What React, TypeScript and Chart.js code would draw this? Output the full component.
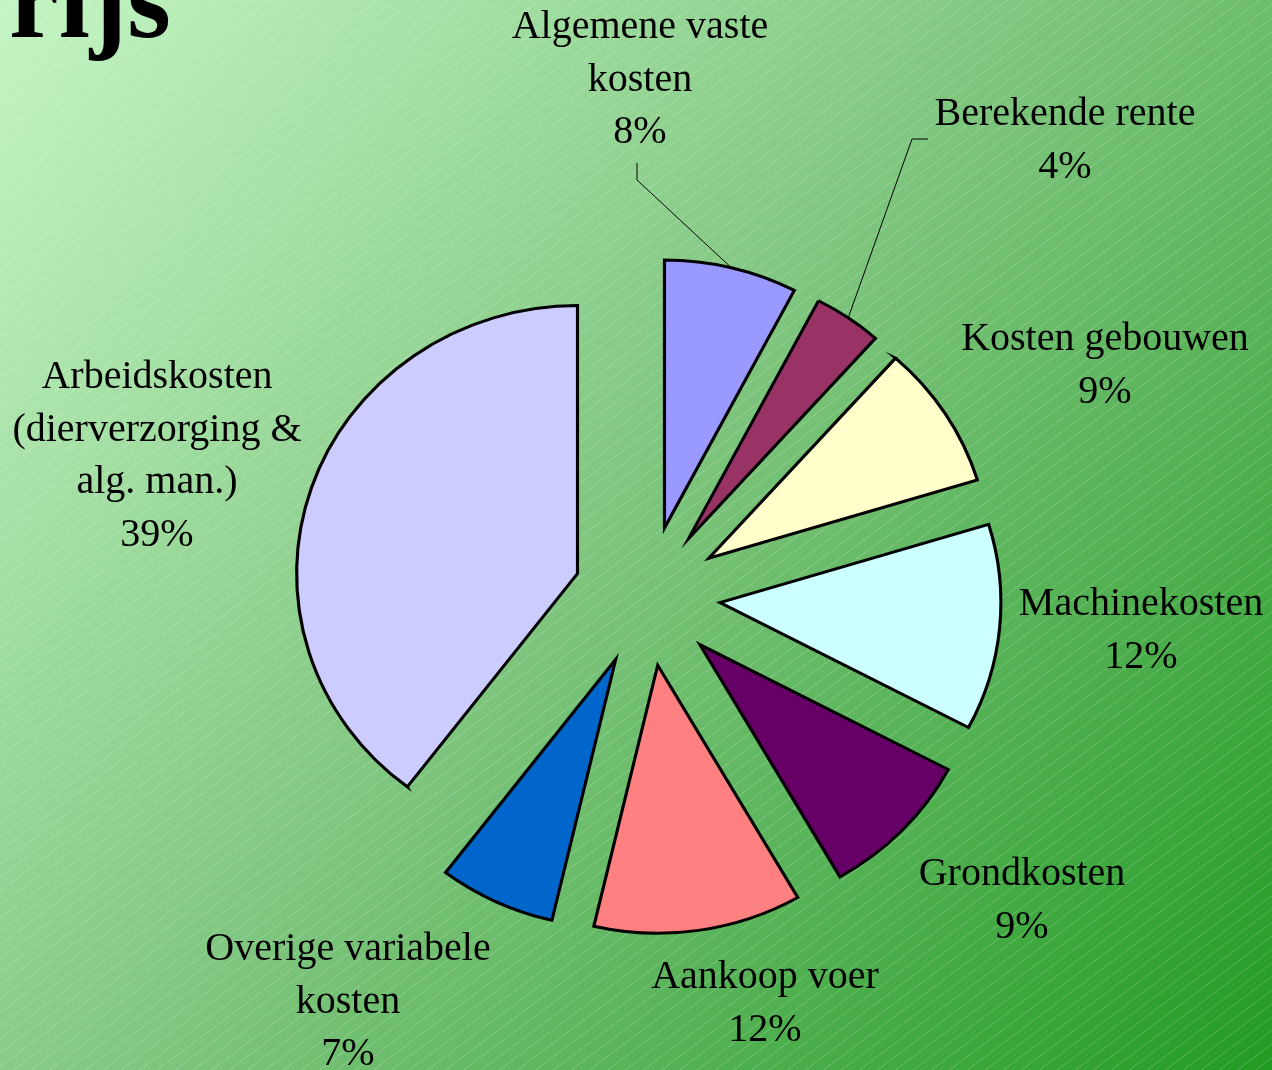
import { useEffect, useRef } from "react";
import { Chart, registerables } from "chart.js";

Chart.register(...registerables);

// ---- data ----
const categories = [
  "Algemene vaste kosten",
  "Berekende rente",
  "Kosten gebouwen",
  "Machinekosten",
  "Grondkosten",
  "Aankoop voer",
  "Overige variabele kosten",
  "Arbeidskosten (dierverzorging & alg. man.)",
];
const shares = [7.65, 3.93, 8.7, 12.44, 8.97, 11.96, 6.71, 39.64];
const percentLabels = ["8%", "4%", "9%", "12%", "9%", "12%", "7%", "39%"];
const labelLines = [
  ["Algemene vaste", "kosten"],
  ["Berekende rente"],
  ["Kosten gebouwen"],
  ["Machinekosten"],
  ["Grondkosten"],
  ["Aankoop voer"],
  ["Overige variabele", "kosten"],
  ["Arbeidskosten", "(dierverzorging &", "alg. man.)"],
];
const sliceColors = [
  "#9999FF",
  "#993366",
  "#FFFFCC",
  "#CCFFFF",
  "#660066",
  "#FF8080",
  "#0066CC",
  "#CCCCFF",
];
const titleText = "rijs";

// ---- layout / style ----
const W = 1272;
const H = 1070;
const RADIUS = 268;
const EXPLODE = 70;
const STRETCH_X = 1.048;
const FONT = '"Liberation Serif", "Times New Roman", serif';
const LINE_H = 52.5;
// label block: center x offset and first baseline offset from pie center
const labelPos = [
  [-7, -558],
  [418, -471],
  [458, -246],
  [494, 19],
  [375, 289],
  [118, 392],
  [-299, 364],
  [-490, -208],
];
// leader lines (label end, elbow) relative to pie center; null = none
const leaders: (number[][] | null)[] = [
  [
    [-10, -433],
    [-10, -416],
  ],
  [
    [281, -457],
    [265, -457],
  ],
  null,
  null,
  null,
  null,
  null,
  null,
];

function center(chart: any) {
  const { left, right, top, bottom } = chart.chartArea;
  return { cx: (left + right) / 2, cy: (top + bottom) / 2 };
}

const piePlugin = {
  id: "explodedPie",
  beforeDraw(chart: any) {
    const { ctx, width, height } = chart;
    ctx.save();
    const g = ctx.createLinearGradient(0, 0, width, height);
    g.addColorStop(0, "#c4f5c4");
    g.addColorStop(0.5, "#7cc47c");
    g.addColorStop(1, "#229b22");
    ctx.fillStyle = g;
    ctx.fillRect(0, 0, width, height);
    ctx.strokeStyle = "rgba(255,255,255,0.22)";
    ctx.lineWidth = 1;
    ctx.beginPath();
    const slope = 0.75;
    const step = 18;
    for (let x0 = 0; x0 < width + height / slope; x0 += step) {
      ctx.moveTo(x0, 0);
      ctx.lineTo(x0 - height / slope, height);
    }
    ctx.stroke();
    ctx.restore();
  },
  afterDatasetsUpdate(chart: any) {
    const { cx, cy } = center(chart);
    const meta = chart.getDatasetMeta(0);
    meta.data.forEach((arc: any) => {
      const half = (arc.startAngle + arc.endAngle) / 2;
      arc.x = cx + Math.cos(half) * EXPLODE;
      arc.y = cy + Math.sin(half) * EXPLODE;
    });
  },
  beforeDatasetsDraw(chart: any) {
    const { ctx } = chart;
    const { cx, cy } = center(chart);
    ctx.save();
    ctx.translate(cx, cy);
    ctx.scale(STRETCH_X, 1);
    ctx.translate(-cx, -cy);
  },
  afterDatasetsDraw(chart: any) {
    chart.ctx.restore();
  },
  afterDraw(chart: any) {
    const { ctx } = chart;
    const { cx, cy } = center(chart);
    const meta = chart.getDatasetMeta(0);
    ctx.save();
    // leader lines
    ctx.strokeStyle = "#000";
    ctx.lineWidth = 1;
    meta.data.forEach((arc: any, i: number) => {
      const l = leaders[i];
      if (!l) return;
      const half = (arc.startAngle + arc.endAngle) / 2;
      const px = arc.x + Math.cos(half) * arc.outerRadius;
      const py = arc.y + Math.sin(half) * arc.outerRadius;
      const sx = cx + (px - cx) * STRETCH_X;
      ctx.beginPath();
      ctx.moveTo(cx + l[0][0], cy + l[0][1]);
      ctx.lineTo(cx + l[1][0], cy + l[1][1]);
      ctx.lineTo(sx, py);
      ctx.stroke();
    });
    // labels
    ctx.fillStyle = "#000";
    ctx.font = `40px ${FONT}`;
    ctx.textAlign = "center";
    ctx.textBaseline = "alphabetic";
    labelLines.forEach((lines, i) => {
      const all = [...lines, percentLabels[i]];
      const [ox, oy] = labelPos[i];
      all.forEach((t, k) => {
        ctx.fillText(t, cx + ox, cy + oy + k * LINE_H);
      });
    });
    // partial slide title
    ctx.font = `bold 112px ${FONT}`;
    ctx.textAlign = "left";
    ctx.fillText(titleText, 9, 37);
    ctx.restore();
  },
};

export default function App() {
  const ref = useRef<HTMLCanvasElement>(null);
  useEffect(() => {
    if (!ref.current) return;
    Chart.defaults.font.family = FONT;
    const chart = new Chart(ref.current, {
      type: "pie",
      data: {
        labels: categories,
        datasets: [
          {
            data: shares,
            backgroundColor: sliceColors,
            borderColor: "#000000",
            borderWidth: 3,
            borderJoinStyle: "miter",
            offset: 0,
          } as any,
        ],
      },
      options: {
        responsive: false,
        animation: false,
        events: [],
        radius: RADIUS,
        layout: { padding: { left: 22, top: 122, right: 0, bottom: 0 } },
        plugins: {
          legend: { display: false },
          tooltip: { enabled: false },
          title: { display: false },
        },
      } as any,
      plugins: [piePlugin],
    });
    return () => chart.destroy();
  }, []);
  return (
    <div style={{ position: "fixed", left: 0, top: 0, width: W, height: H }}>
      <canvas ref={ref} width={W} height={H} style={{ display: "block" }} />
    </div>
  );
}
